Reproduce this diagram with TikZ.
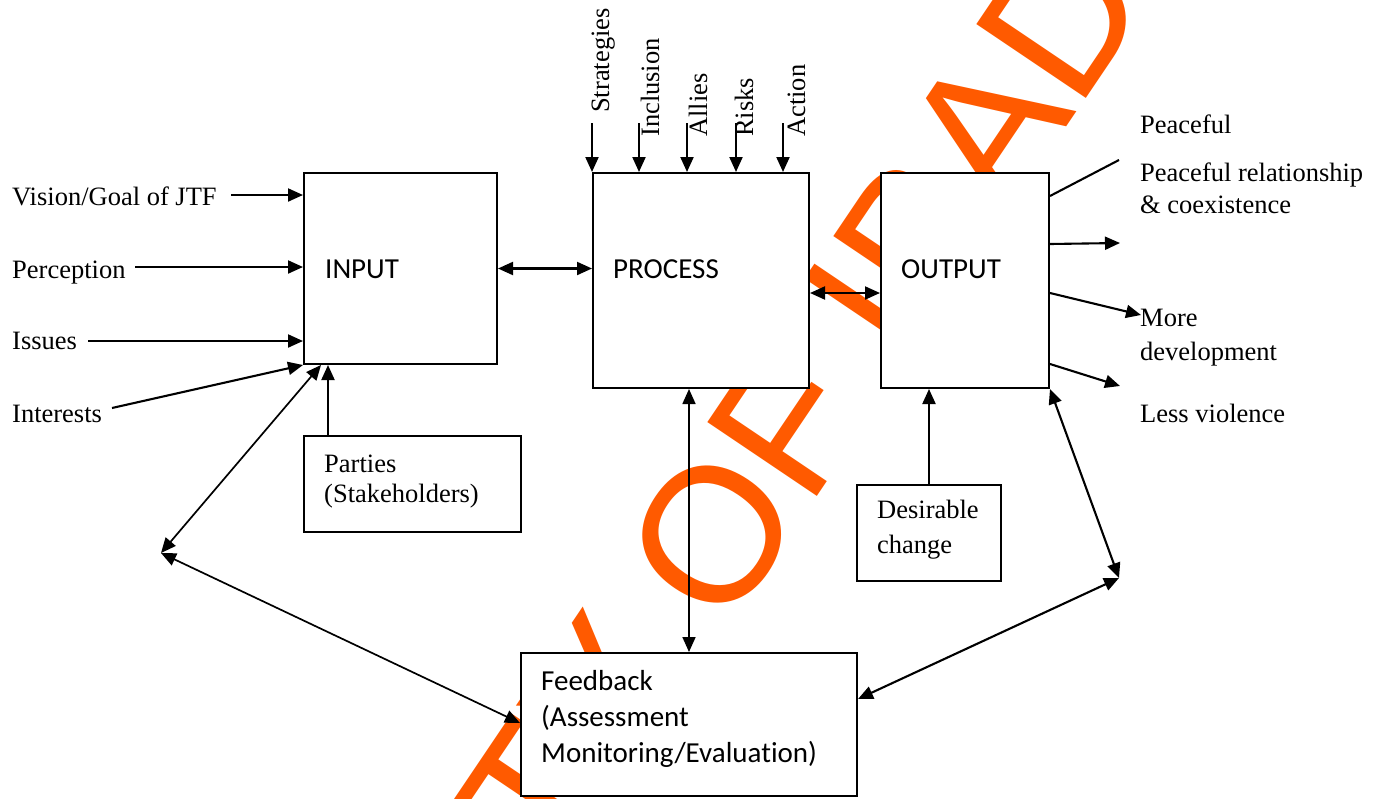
\documentclass[tikz,border=0pt]{standalone}
\usepackage{fontspec}
\setmainfont{Liberation Serif}
\newfontfamily\calib[Ligatures=NoCommon]{Carlito}
\newfontfamily\wmfont{Liberation Sans}
\usetikzlibrary{arrows.meta}
\definecolor{wmorange}{RGB}{255,90,0}
\begin{document}
\begin{tikzpicture}[x=1pt,y=-1pt,
  box/.style={draw, line width=2pt, fill=white, inner sep=0pt, anchor=north west},
  lbl/.style={font=\fontsize{26.5}{31}\selectfont, inner sep=0pt, anchor=base west},
  vlbl/.style={lbl, rotate=90},
  slbl/.style={font=\calib\fontsize{29}{36}\selectfont, inner sep=0pt, anchor=base west},
  wm/.style={font=\wmfont\fontsize{192}{200}\selectfont, text=wmorange, inner sep=0pt, rotate=56},
  tip/.tip={Triangle[length=15pt,width=13pt]},
  arr/.style={line width=2.1pt, -tip},
  dbl/.style={line width=2.1pt, tip-tip},
  thin dbl/.style={line width=1.7pt, tip-tip}]
\useasboundingbox (0,0) rectangle (1379,798);
\fill[white] (0,0) rectangle (1379,798);
\clip (0,0) rectangle (1379,798);

% watermark
\node[wm, anchor=base west] (wmb) at (725.2,633.3) {OF IBADAN};
\node[wm, anchor=base east] (wma) at (695.4,677.6) {UNIVERSITY};

% boxes
\node[box, minimum width=193pt, minimum height=191pt] (input) at (303,172) {};
\node[box, minimum width=216pt, minimum height=215pt] (process) at (592,172) {};
\node[box, minimum width=168pt, minimum height=215pt] (output) at (880,172) {};
\node[box, minimum width=217pt, minimum height=96pt] (parties) at (303,435) {};
\node[box, minimum width=144pt, minimum height=96pt] (desire) at (856,484) {};
\node[box, minimum width=336pt, minimum height=143pt] (feedback) at (520,652) {};

% box texts
\node[slbl] (tinput) at (325,278) {INPUT};
\node[slbl] (tprocess) at (613,278) {PROCESS};
\node[slbl] (toutput) at (901,278) {OUTPUT};
\node[lbl] (tparties1) at (324,472) {Parties};
\node[lbl] (tparties2) at (324,502) {(Stakeholders)};
\node[lbl] (tdesire1) at (877,518) {Desirable};
\node[lbl] (tdesire2) at (877,553) {change};
\node[slbl] (tfb1) at (541,690) {Feedback};
\node[slbl] (tfb2) at (541,726) {(Assessment};
\node[slbl] (tfb3) at (541,762) {Monitoring/Evaluation)};

% left inputs
\node[lbl] (vision) at (12,205) {Vision/Goal of JTF};
\node[lbl] (perc) at (12,278) {Perception};
\node[lbl] (issues) at (12,349) {Issues};
\node[lbl] (interests) at (12,422) {Interests};
\coordinate (vis-s) at (231,195);
\coordinate (perc-s) at (135,267);
\coordinate (iss-s) at (88,341);
\coordinate (int-s) at (112,408);
\draw[arr] (vis-s) -- (vis-s -| input.west);
\draw[arr] (perc-s) -- (perc-s -| input.west);
\draw[arr] (iss-s) -- (iss-s -| input.west);
\draw[arr] (int-s) -- (input.south west);
\draw[arr] ([xshift=25pt]parties.north west) -- ([xshift=25pt]input.south west);

% top inputs to process
\node[vlbl] (strat) at (609,113) {Strategies};
\node[vlbl] (incl) at (659,137) {Inclusion};
\node[vlbl] (allies) at (707,137) {Allies};
\node[vlbl] (risks) at (753,137) {Risks};
\node[vlbl] (action) at (805,137) {Action};
\foreach \x/\n in {592/a,639/b,687/c,736/d,783/e}{
  \coordinate (top-\n) at (\x,123);
  \draw[arr] (top-\n) -- (top-\n |- process.north);
}

% main flow
\draw[dbl] (input.east) -- (input.east -| process.west);
\draw[dbl] ([yshift=-12.5pt]process.east) -- ([yshift=-12.5pt]output.west);
\draw[thin dbl] (process.south -| feedback.north) -- (feedback.north);
\draw[arr] (desire.north) -- (desire.north |- output.south);

% feedback loop
\coordinate (L) at (161,553);
\coordinate (R) at (1119,578);
\draw[thin dbl] (L) -- ([xshift=18pt]input.south west);
\draw[thin dbl] (L) -- ([yshift=1.5pt]feedback.west);
\draw[dbl] (output.south east) -- (R);
\draw[dbl] (R) -- ([yshift=25.5pt]feedback.east);

% outputs
\node[lbl] (o1) at (1140,133) {Peaceful};
\node[lbl] (o2) at (1140,181) {Peaceful relationship};
\node[lbl] (o3) at (1140,213) {\& coexistence};
\node[lbl] (o4) at (1140,326) {More};
\node[lbl] (o5) at (1140,360) {development};
\node[lbl] (o6) at (1140,422) {Less violence};
\coordinate (pe1) at (1119,160);
\coordinate (pe2) at (1120,243);
\coordinate (pe3) at (1141,315);
\coordinate (pe4) at (1120,386);
\draw[line width=2.1pt] ([yshift=84.5pt]output.east) -- (pe1);
\draw[arr] ([yshift=36.5pt]output.east) -- (pe2);
\draw[arr] ([yshift=-12.5pt]output.east) -- (pe3);
\draw[arr] ([yshift=-83.5pt]output.east) -- (pe4);
\end{tikzpicture}
\end{document}
